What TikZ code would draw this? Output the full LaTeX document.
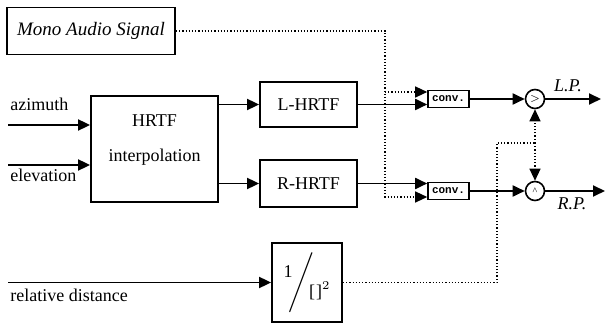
\documentclass[tikz,border=0pt]{standalone}
\usepackage{fontspec}
\setmainfont{Liberation Serif}
\setmonofont{Liberation Mono}
\usetikzlibrary{positioning}
\usetikzlibrary{arrows.meta,calc}

\begin{document}
\begin{tikzpicture}[x=0.5pt,y=-0.5pt,
  >={Triangle[length=6pt,width=5.5pt]},
  block/.style={draw,line width=0.9pt,inner sep=0pt,font=\fontsize{9}{10}\selectfont},
  convbox/.style={draw,line width=0.8pt,minimum width=20.5pt,minimum height=8.5pt,inner sep=0pt,font=\ttfamily\bfseries\fontsize{5.5}{6}\selectfont},
  sum/.style={draw,circle,line width=0.8pt,minimum size=9.5pt,inner sep=0pt,font=\fontsize{5}{5}\selectfont},
  wire/.style={line width=0.9pt},
  sig/.style={densely dotted,line width=0.6pt},
  lab/.style={inner sep=1pt,font=\fontsize{9}{10}\selectfont}]
\useasboundingbox (0,0) rectangle (608,325);

% blocks
\node (mono) at (91,31) [block,minimum width=84pt,minimum height=23.5pt,font=\itshape\fontsize{9.5}{10}\selectfont] {Mono Audio Signal};
\node (hrtf) at (154.5,149) [block,minimum width=63.5pt,minimum height=53pt] {};
\node (hrtftxt) at (154.5,140.5) [lab,align=center] {HRTF\\[7.5pt]interpolation};
\node (lhrtf) at (308.5,104.5) [block,minimum width=48.5pt,minimum height=22.5pt] {L-HRTF};
\node (rhrtf) at (308.5,183.5) [block,minimum width=48.5pt,minimum height=23.5pt] {R-HRTF};
\node (gain) at (307,282.5) [block,minimum width=35pt,minimum height=39.5pt] {\raisebox{5pt}{1}\kern-2pt$\Bigg/$\kern-2.5pt\raisebox{-5pt}{[\kern0.5pt]$^2$}};
\node (lconv) at (448.5,99) [convbox] {conv.};
\node (rconv) at (448.5,191) [convbox] {conv.};
\node (lsum) at (535,99) [sum] {$>$};
\node (rsum) at (535,191) [sum] {\textasciicircum};

% inputs and outputs
\coordinate (azin) at (8,125);
\coordinate (elin) at (8,165);
\coordinate (distin) at (8,282.5);
\coordinate (lout) at (601,99);
\coordinate (rout) at (605,191);
\node (azlab) [lab,above right=6pt and 0pt of azin] {azimuth};
\node (ellab) [lab,below right=1pt and 0pt of elin] {elevation};
\node (distlab) [lab,below right=2pt and 0pt of distin] {relative distance};
\node (lplab) at (568,86) [lab,font=\itshape\fontsize{9}{9}\selectfont] {L.P.};
\node (rplab) at (572,204) [lab,font=\itshape\fontsize{9}{9}\selectfont] {R.P.};

% solid signal path
\draw[wire,->] (azin) -- (azin -| hrtf.west);
\draw[wire,->] (elin) -- (elin -| hrtf.west);
\draw[wire,->] (hrtf.east |- lhrtf) -- (lhrtf.west);
\draw[wire,->] (hrtf.east |- rhrtf) -- (rhrtf.west);
\draw[wire,->] (lhrtf.east) -- (lhrtf.east -| lconv.west);
\draw[wire,->] (rhrtf.east) -- (rhrtf.east -| rconv.west);
\draw[wire,->] (lconv) -- (lsum);
\draw[wire,->] (rconv) -- (rsum);
\draw[wire,->] (lsum) -- (lout);
\draw[wire,->] (rsum) -- (rout);
\draw[wire,->] (distin) -- (gain.west);

% mono source fed to both convolvers
\coordinate (lconvin) at ($(lconv.west)+(0,-7)$);
\coordinate (rconvin) at ($(rconv.west)+(0,6)$);
\coordinate (monotap) at (385,31);
\draw[sig,->] (mono.east) -- (monotap) -- (monotap |- rconvin) -- (rconvin);
\draw[sig,->] (monotap |- lconvin) -- (lconvin);

% distance gain to both sums
\coordinate (gturn) at (497,282.5);
\coordinate (gjoin) at (535,143);
\draw[sig] (gain.east) -- (gturn) -- (gturn |- gjoin) -- (gjoin);
\draw[sig,->] (gjoin) -- (lsum.south);
\draw[sig,->] (gjoin) -- (rsum.north);
\end{tikzpicture}
\end{document}
